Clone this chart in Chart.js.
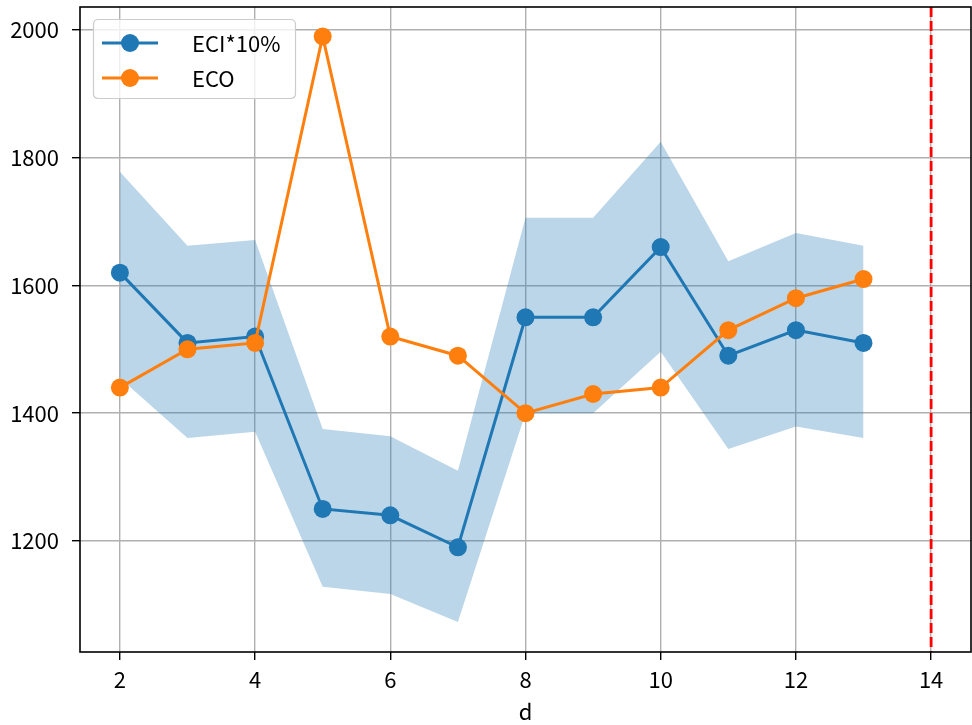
<!DOCTYPE html>
<html><head><meta charset="utf-8">
<script src="https://cdn.jsdelivr.net/npm/chart.js@4"></script>
<style>html,body{margin:0;padding:0;background:#fff;overflow:hidden}#wrap{width:972px;height:725px;overflow:hidden;position:relative}#c{position:absolute;left:0;top:-2px}</style>
</head><body><div id="wrap"><canvas id="c" width="980" height="727"></canvas></div>
<script>
const days = [2,3,4,5,6,7,8,9,10,11,12,13];
const eci = [1620,1510,1520,1250,1240,1190,1550,1550,1660,1490,1530,1510];
const eco = [1440,1500,1510,1990,1520,1490,1400,1430,1440,1530,1580,1610];
const bandUpper = [1778,1662,1671,1375,1364,1310,1706,1706,1825,1638,1682,1662];
const bandLower = [1455,1361,1371,1128,1117,1073,1400,1400,1496,1344,1379,1361];
const xTicks = [2,4,6,8,10,12,14];
const yTicks = [1200,1400,1600,1800,2000];
const vlineX = 14;
const labels = ['ECI*10%','ECO'];
const FONT = '"Noto Sans CJK JP", "DejaVu Sans", sans-serif';

const pts = arr => arr.map((v,i)=>({x:days[i], y:v}));

const framePlugin = {
  id:'frame',
  afterDatasetsDraw(chart){
    const {ctx, chartArea:a, scales:{x}} = chart;
    ctx.save();
    const px = x.getPixelForValue(vlineX);
    ctx.strokeStyle = '#ff0000'; ctx.lineWidth = 2.8; ctx.setLineDash([10,4]);
    ctx.beginPath(); ctx.moveTo(px, a.top); ctx.lineTo(px, a.bottom); ctx.stroke();
    ctx.setLineDash([]);
    ctx.strokeStyle = '#000'; ctx.lineWidth = 1.6;
    ctx.strokeRect(a.left, a.top, a.right - a.left, a.bottom - a.top);
    const oy = 2;
    const bx=93.5, by=19.5+oy, bw=202, bh=79, r=5;
    ctx.fillStyle='rgba(255,255,255,0.8)'; ctx.strokeStyle='#cccccc'; ctx.lineWidth=1.2;
    ctx.beginPath();
    ctx.moveTo(bx+r,by); ctx.lineTo(bx+bw-r,by); ctx.quadraticCurveTo(bx+bw,by,bx+bw,by+r);
    ctx.lineTo(bx+bw,by+bh-r); ctx.quadraticCurveTo(bx+bw,by+bh,bx+bw-r,by+bh);
    ctx.lineTo(bx+r,by+bh); ctx.quadraticCurveTo(bx,by+bh,bx,by+bh-r);
    ctx.lineTo(bx,by+r); ctx.quadraticCurveTo(bx,by,bx+r,by); ctx.closePath();
    ctx.fill(); ctx.stroke();
    const cols=['#1f77b4','#ff7f0e'];
    const ys=[43+oy,78+oy];
    for(let i=0;i<2;i++){
      ctx.strokeStyle=cols[i]; ctx.lineWidth=3;
      ctx.beginPath(); ctx.moveTo(102,ys[i]); ctx.lineTo(158,ys[i]); ctx.stroke();
      ctx.fillStyle=cols[i]; ctx.beginPath(); ctx.arc(130,ys[i],9,0,Math.PI*2); ctx.fill();
      ctx.fillStyle='#000'; ctx.font='22px '+FONT; ctx.textBaseline='middle'; ctx.textAlign='left';
      ctx.fillText(labels[i],192,ys[i]+1);
    }
    ctx.restore();
  }
};

const noPad = s => { s.paddingLeft=0; s.paddingRight=0; s.paddingTop=0; s.paddingBottom=0; };

new Chart(document.getElementById('c'), {
  type:'scatter',
  data:{datasets:[
    {label:'upper', data:pts(bandUpper), showLine:true, borderWidth:0, pointRadius:0, fill:'+1', backgroundColor:'rgba(31,119,180,0.3)', borderColor:'rgba(0,0,0,0)', order:3},
    {label:'lower', data:pts(bandLower), showLine:true, borderWidth:0, pointRadius:0, fill:false, borderColor:'rgba(0,0,0,0)', order:4},
    {label:labels[0], data:pts(eci), showLine:true, borderColor:'#1f77b4', backgroundColor:'#1f77b4', borderWidth:3, pointRadius:9, pointBorderWidth:0, order:1},
    {label:labels[1], data:pts(eco), showLine:true, borderColor:'#ff7f0e', backgroundColor:'#ff7f0e', borderWidth:3, pointRadius:9, pointBorderWidth:0, order:0}
  ]},
  options:{
    responsive:false, animation:false, devicePixelRatio:1,
    layout:{padding:{top:7,right:1,left:0,bottom:0}},
    plugins:{legend:{display:false}, tooltip:{enabled:false}, filler:{propagate:false}},
    scales:{
      x:{type:'linear', min:1.41, max:14.59,
        afterBuildTicks:s=>{s.ticks=xTicks.map(v=>({value:v}));},
        afterFit:s=>{s.height=73; noPad(s);},
        grid:{color:'#b0b0b0', lineWidth:1.4, tickColor:'#000', tickLength:8, tickWidth:1.4},
        border:{display:false},
        ticks:{color:'#000', font:{family:FONT, size:22}, padding:6, maxRotation:0, callback:v=>String(v)},
        title:{display:true, text:'d', color:'#000', font:{family:FONT, size:22}, padding:{top:0,bottom:0}}
      },
      y:{type:'linear', min:1026, max:2036,
        afterBuildTicks:s=>{s.ticks=yTicks.map(v=>({value:v}));},
        afterFit:s=>{s.width=80; noPad(s);},
        grid:{color:'#b0b0b0', lineWidth:1.4, tickColor:'#000', tickLength:8, tickWidth:1.4},
        border:{display:false},
        ticks:{color:'#000', font:{family:FONT, size:22}, padding:13, callback:v=>String(v)}
      }
    }
  },
  plugins:[framePlugin]
});
</script></body></html>
